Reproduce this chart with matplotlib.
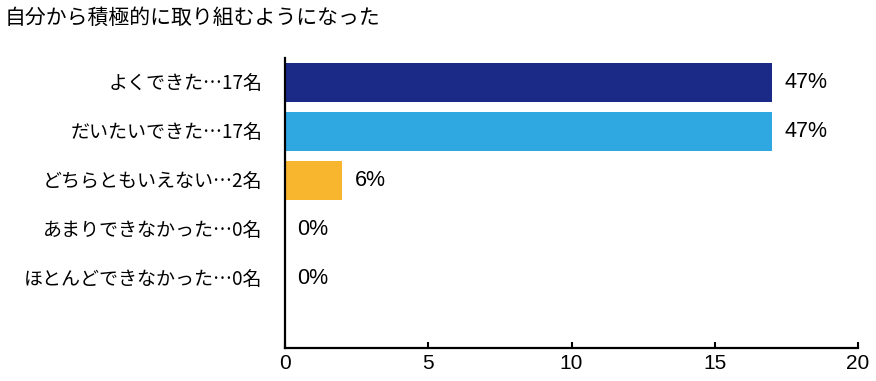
import matplotlib
matplotlib.use("Agg")
import matplotlib.pyplot as plt

plt.rcParams['font.family'] = ['Noto Sans CJK JP', 'DejaVu Sans']

title = "自分から積極的に取り組むようになった"
categories = ["よくできた…17名", "だいたいできた…17名", "どちらともいえない…2名",
              "あまりできなかった…0名", "ほとんどできなかった…0名"]
counts = [17, 17, 2, 0, 0]
percents = ["47%", "47%", "6%", "0%", "0%"]
colors = ["#1b2a86", "#2fa8e1", "#f8b62e", "#999999", "#999999"]
xticks = [0, 5, 10, 15, 20]

num_font = ['Liberation Sans', 'DejaVu Sans']

fig = plt.figure(figsize=(8.76, 3.81), dpi=100)
ax = fig.add_axes([285/876, 1-348/381, (858-285)/876, (348-58)/381])

y = list(range(len(categories)))
ax.barh(y, counts, height=0.8, color=colors, zorder=2)
for yi, c, p in zip(y, counts, percents):
    ax.annotate(p, (c, yi), xytext=(9, 0), textcoords='offset points',
                va='center', ha='left', fontsize=15.5, family=num_font)

ax.set_xlim(0, 20)
ax.set_ylim(5.43, -0.5)
ax.set_xticks(xticks)
ax.set_xticklabels([str(t) for t in xticks], family=num_font, fontsize=15)
ax.set_yticks(y)
ax.set_yticklabels(categories, fontsize=13.7)
ax.tick_params(axis='y', length=0, pad=16)
ax.tick_params(axis='x', direction='in', length=4, width=1.5, pad=4)
for s in ['top', 'right']:
    ax.spines[s].set_visible(False)
for s in ['left', 'bottom']:
    ax.spines[s].set_linewidth(1.6)

fig.text(5/876, 1-18/381, title, fontsize=15, ha='left', va='center')

fig.savefig("out.png", dpi=100)
